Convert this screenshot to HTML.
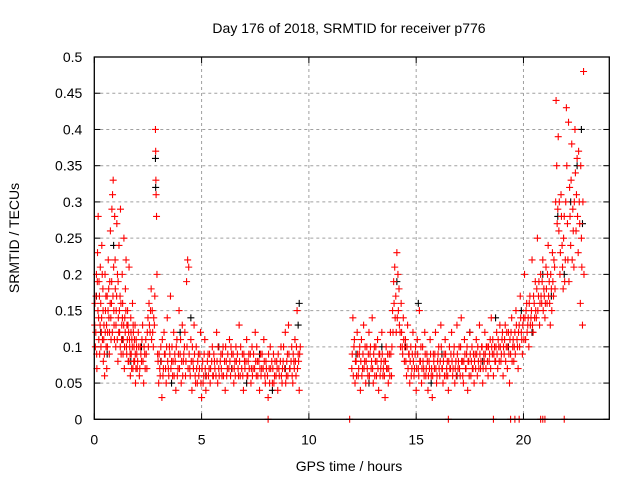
<!DOCTYPE html>
<html><head><meta charset="utf-8"><style>
body{margin:0;background:#fff}
svg text{font-family:"Liberation Sans",sans-serif;font-size:14px;fill:#000}
</style></head><body>
<svg id="chart" width="640" height="480">
<rect width="640" height="480" fill="#fff"/>
<text x="349" y="33" text-anchor="middle">Day 176 of 2018, SRMTID for receiver p776</text>
<text x="349" y="471" text-anchor="middle">GPS time / hours</text>
<text transform="translate(19,238) rotate(-90)" text-anchor="middle">SRMTID / TECUs</text>
<g id="grid"></g><g id="ticks"></g><g id="pts"></g>
<rect x="94.3" y="57" width="515" height="362.3" fill="none" stroke="#000" stroke-width="1.3"/>
</svg>
<script>
const xTicks=[0,5,10,15,20];
const yTicks=[0,0.05,0.1,0.15,0.2,0.25,0.3,0.35,0.4,0.45,0.5];
const yTickLabels=["0","0.05","0.1","0.15","0.2","0.25","0.3","0.35","0.4","0.45","0.5"];
const redPts=[
[0.02,0.13],[0.05,0.1],[0.08,0.17],[0.1,0.2],[0.12,0.07],[0.15,0.23],[0.18,0.28],[0.2,0.14],[0.22,0.19],[0.25,0.09],[0.28,0.21],[0.3,0.16],[0.33,0.12],[0.35,0.24],[0.38,0.11],[0.4,0.18],[0.42,0.08],[0.45,0.13],[0.48,0.06],[0.5,0.2],[0.52,0.15],[0.55,0.1],[0.58,0.07],[0.6,0.17],[0.62,0.12],[0.65,0.22],[0.68,0.14],[0.7,0.09],[0.72,0.19],[0.75,0.26],[0.78,0.11],[0.8,0.16],[0.82,0.29],[0.85,0.31],[0.88,0.33],[0.9,0.21],[0.92,0.13],[0.95,0.28],[0.98,0.18],[1.0,0.1],[1.02,0.15],[1.05,0.27],[1.08,0.2],[1.1,0.08],[1.12,0.14],[1.15,0.24],[1.18,0.12],[1.2,0.17],[1.22,0.29],[1.25,0.09],[1.28,0.13],[1.3,0.2],[1.32,0.16],[1.35,0.11],[1.38,0.25],[1.4,0.07],[1.42,0.14],[1.45,0.18],[1.48,0.22],[1.5,0.1],[1.52,0.13],[1.55,0.15],[1.58,0.08],[1.6,0.12],[1.62,0.21],[1.65,0.1],[1.68,0.06],[1.7,0.14],[1.72,0.09],[1.75,0.11],[1.78,0.16],[1.8,0.07],[1.82,0.12],[1.85,0.1],[1.88,0.08],[1.9,0.13],[1.92,0.05],[1.95,0.11],[1.98,0.09],[2.0,0.07],[2.05,0.12],[2.1,0.06],[2.15,0.1],[2.2,0.08],[2.25,0.13],[2.3,0.05],[2.35,0.09],[2.4,0.11],[2.45,0.07],[2.5,0.14],[2.55,0.16],[2.6,0.12],[2.65,0.18],[2.7,0.15],[2.75,0.1],[2.8,0.13],[2.82,0.17],[2.85,0.4],[2.86,0.37],[2.87,0.33],[2.88,0.31],[2.9,0.28],[2.92,0.2],[2.95,0.09],[3.0,0.05],[3.05,0.07],[3.1,0.1],[3.15,0.03],[3.2,0.06],[3.25,0.12],[3.3,0.09],[3.35,0.05],[3.4,0.14],[3.45,0.07],[3.5,0.1],[3.55,0.17],[3.6,0.08],[3.65,0.06],[3.7,0.12],[3.75,0.09],[3.8,0.04],[3.85,0.11],[3.9,0.07],[3.95,0.15],[4.0,0.09],[4.05,0.05],[4.1,0.13],[4.15,0.08],[4.2,0.1],[4.25,0.06],[4.3,0.19],[4.35,0.22],[4.4,0.21],[4.45,0.07],[4.5,0.11],[4.55,0.04],[4.6,0.08],[4.65,0.13],[4.7,0.06],[4.75,0.1],[4.8,0.05],[4.85,0.09],[4.9,0.07],[4.95,0.12],[5.0,0.03],[5.05,0.08],[5.1,0.06],[5.15,0.11],[5.2,0.04],[5.3,0.09],[5.35,0.07],[5.4,0.05],[5.5,0.1],[5.55,0.06],[5.6,0.08],[5.7,0.12],[5.75,0.05],[5.8,0.07],[5.9,0.09],[5.95,0.06],[6.0,0.1],[6.1,0.04],[6.15,0.08],[6.2,0.07],[6.3,0.11],[6.35,0.06],[6.4,0.09],[6.5,0.05],[6.55,0.08],[6.6,0.1],[6.7,0.07],[6.75,0.13],[6.8,0.06],[6.9,0.09],[6.95,0.04],[7.0,0.08],[7.1,0.11],[7.15,0.06],[7.2,0.09],[7.3,0.05],[7.35,0.1],[7.4,0.07],[7.5,0.12],[7.55,0.06],[7.6,0.08],[7.7,0.04],[7.75,0.09],[7.8,0.07],[7.9,0.11],[7.95,0.06],[8.0,0.08],[8.1,0.03],[8.15,0.07],[8.2,0.1],[8.3,0.05],[8.35,0.09],[8.4,0.06],[8.5,0.08],[8.55,0.04],[8.6,0.07],[8.7,0.1],[8.75,0.05],[8.8,0.08],[8.9,0.12],[8.95,0.06],[9.0,0.09],[9.05,0.13],[9.1,0.07],[9.2,0.1],[9.25,0.05],[9.3,0.08],[9.35,0.11],[9.4,0.06],[9.45,0.15],[9.5,0.09],[9.55,0.04],[9.6,0.1],
[12.0,0.07],[12.05,0.14],[12.1,0.1],[12.15,0.05],[12.2,0.08],[12.25,0.12],[12.3,0.06],[12.35,0.09],[12.4,0.04],[12.45,0.11],[12.5,0.07],[12.55,0.13],[12.6,0.08],[12.65,0.05],[12.7,0.1],[12.75,0.06],[12.8,0.12],[12.85,0.09],[12.9,0.07],[12.95,0.14],[13.0,0.05],[13.05,0.1],[13.1,0.08],[13.15,0.06],[13.2,0.11],[13.25,0.04],[13.3,0.09],[13.35,0.07],[13.4,0.12],[13.45,0.06],[13.5,0.08],[13.55,0.03],[13.6,0.1],[13.65,0.07],[13.7,0.05],[13.75,0.09],[13.8,0.12],[13.85,0.06],[13.9,0.15],[13.95,0.19],[14.0,0.21],[14.05,0.17],[14.1,0.23],[14.12,0.14],[14.15,0.2],[14.2,0.18],[14.25,0.12],[14.3,0.16],[14.35,0.1],[14.4,0.14],[14.45,0.08],[14.5,0.11],[14.55,0.06],[14.6,0.13],[14.65,0.09],[14.7,0.05],[14.75,0.1],[14.8,0.07],[14.85,0.12],[14.9,0.06],[14.95,0.09],[15.0,0.04],[15.05,0.11],[15.1,0.07],[15.15,0.15],[15.2,0.08],[15.25,0.05],[15.3,0.1],[15.35,0.07],[15.4,0.12],[15.45,0.06],[15.5,0.09],[15.55,0.04],[15.6,0.08],[15.65,0.11],[15.7,0.06],[15.75,0.03],[15.8,0.09],[15.85,0.07],[15.9,0.12],[15.95,0.05],[16.0,0.08],[16.05,0.1],[16.1,0.06],[16.15,0.13],[16.2,0.07],[16.25,0.05],[16.3,0.09],[16.35,0.11],[16.4,0.06],[16.45,0.08],[16.5,0.04],[16.55,0.1],[16.6,0.07],[16.65,0.12],[16.7,0.06],[16.75,0.09],[16.8,0.05],[16.85,0.08],[16.9,0.13],[16.95,0.07],[17.0,0.1],[17.05,0.06],[17.1,0.14],[17.15,0.08],[17.2,0.05],[17.25,0.11],[17.3,0.07],[17.35,0.09],[17.4,0.04],[17.45,0.08],[17.5,0.12],[17.55,0.06],[17.6,0.1],[17.65,0.07],[17.7,0.05],[17.75,0.09],[17.8,0.11],[17.85,0.06],[17.9,0.08],[17.95,0.13],[18.0,0.07],[18.05,0.1],[18.1,0.05],[18.15,0.09],[18.2,0.12],[18.25,0.07],[18.3,0.1],[18.35,0.06],[18.4,0.08],[18.45,0.11],[18.5,0.14],[18.55,0.09],[18.6,0.06],[18.65,0.1],[18.7,0.08],[18.75,0.12],[18.8,0.07],[18.85,0.1],[18.9,0.13],[18.95,0.08],[19.0,0.11],[19.05,0.06],[19.1,0.09],[19.15,0.13],[19.2,0.1],[19.25,0.07],[19.3,0.12],[19.35,0.05],[19.4,0.09],[19.45,0.14],[19.5,0.1],[19.55,0.08],[19.6,0.12],[19.65,0.15],[19.7,0.11],[19.75,0.07],[19.8,0.13],[19.85,0.17],[19.9,0.12],[19.95,0.09],[20.0,0.14],[20.05,0.2],[20.1,0.11],[20.15,0.16],[20.2,0.13],[20.25,0.1],[20.3,0.17],[20.35,0.14],[20.4,0.22],[20.45,0.12],[20.5,0.16],[20.55,0.19],[20.6,0.14],[20.65,0.25],[20.7,0.17],[20.75,0.13],[20.8,0.2],[20.85,0.16],[20.9,0.22],[20.95,0.18],[21.0,0.14],[21.05,0.21],[21.1,0.16],[21.15,0.24],[21.2,0.19],[21.25,0.13],[21.3,0.18],[21.35,0.23],[21.4,0.17],[21.45,0.21],[21.5,0.3],[21.52,0.44],[21.55,0.35],[21.6,0.29],[21.62,0.39],[21.65,0.26],[21.7,0.2],[21.75,0.31],[21.8,0.24],[21.85,0.18],[21.9,0.28],[21.95,0.22],[22.0,0.43],[22.02,0.35],[22.05,0.27],[22.1,0.41],[22.12,0.19],[22.15,0.32],[22.2,0.24],[22.25,0.38],[22.3,0.29],[22.35,0.21],[22.4,0.4],[22.42,0.34],[22.45,0.26],[22.5,0.36],[22.55,0.23],[22.6,0.3],[22.65,0.16],[22.7,0.25],[22.75,0.13],[22.8,0.48],[22.82,0.2]
];
const redPts2=[
[0.03,0.16],[0.07,0.12],[0.11,0.09],[0.14,0.19],[0.17,0.15],[0.21,0.11],[0.24,0.17],[0.27,0.13],[0.31,0.1],[0.34,0.14],[0.37,0.2],[0.41,0.15],[0.44,0.11],[0.47,0.09],[0.51,0.12],[0.54,0.17],[0.57,0.13],[0.61,0.1],[0.64,0.15],[0.67,0.18],[0.71,0.12],[0.74,0.16],[0.77,0.14],[0.81,0.19],[0.84,0.12],[0.87,0.17],[0.91,0.15],[0.94,0.11],[0.97,0.22],[1.01,0.13],[1.04,0.17],[1.07,0.11],[1.11,0.19],[1.14,0.12],[1.17,0.15],[1.21,0.1],[1.24,0.16],[1.27,0.11],[1.31,0.14],[1.34,0.09],[1.37,0.13],[1.41,0.1],[1.44,0.12],[1.47,0.15],[1.51,0.09],[1.54,0.11],[1.57,0.13],[1.61,0.08],[1.64,0.11],[1.67,0.09],[1.71,0.12],[1.74,0.07],[1.77,0.1],[1.81,0.13],[1.84,0.08],[1.87,0.11],[1.91,0.09],[1.94,0.07],[1.97,0.1],[2.02,0.08],[2.07,0.1],[2.12,0.07],[2.17,0.09],[2.22,0.11],[2.27,0.08],[2.32,0.1],[2.37,0.07],[2.42,0.09],[2.47,0.12],[2.52,0.1],[2.57,0.13],[2.62,0.15],[2.67,0.11],[2.72,0.12],[2.77,0.14],[2.97,0.08],[3.02,0.09],[3.07,0.06],[3.12,0.08],[3.17,0.11],[3.22,0.07],[3.27,0.09],[3.32,0.07],[3.37,0.1],[3.42,0.08],[3.47,0.06],[3.52,0.09],[3.57,0.07],[3.62,0.1],[3.67,0.08],[3.72,0.06],[3.77,0.08],[3.82,0.1],[3.87,0.06],[3.92,0.09],[3.97,0.07],[4.02,0.11],[4.07,0.08],[4.12,0.06],[4.17,0.09],[4.22,0.12],[4.27,0.08],[4.32,0.1],[4.37,0.07],[4.42,0.09],[4.47,0.06],[4.52,0.08],[4.57,0.1],[4.62,0.07],[4.67,0.09],[4.72,0.05],[4.77,0.07],[4.82,0.08],[4.87,0.06],[4.92,0.09],[4.97,0.05],[5.02,0.07],[5.07,0.05],[5.12,0.09],[5.17,0.07],[5.22,0.06],[5.27,0.08],[5.32,0.06],[5.37,0.09],[5.42,0.07],[5.47,0.08],[5.52,0.06],[5.57,0.09],[5.62,0.07],[5.67,0.06],[5.72,0.08],[5.77,0.1],[5.82,0.06],[5.87,0.08],[5.92,0.07],[5.97,0.09],[6.02,0.06],[6.07,0.08],[6.12,0.1],[6.17,0.06],[6.22,0.09],[6.27,0.07],[6.32,0.08],[6.37,0.1],[6.42,0.07],[6.47,0.09],[6.52,0.07],[6.57,0.06],[6.62,0.08],[6.67,0.09],[6.72,0.06],[6.77,0.08],[6.82,0.1],[6.87,0.07],[6.92,0.06],[6.97,0.09],[7.02,0.07],[7.07,0.08],[7.12,0.06],[7.17,0.08],[7.22,0.07],[7.27,0.09],[7.32,0.07],[7.37,0.06],[7.42,0.09],[7.47,0.07],[7.52,0.08],[7.57,0.1],[7.62,0.06],[7.67,0.08],[7.72,0.07],[7.77,0.06],[7.82,0.09],[7.87,0.07],[7.92,0.08],[7.97,0.05],[8.02,0.07],[8.07,0.06],[8.12,0.09],[8.17,0.05],[8.22,0.07],[8.27,0.08],[8.32,0.07],[8.37,0.05],[8.42,0.08],[8.47,0.06],[8.52,0.07],[8.57,0.09],[8.62,0.06],[8.67,0.08],[8.72,0.06],[8.77,0.07],[8.82,0.1],[8.87,0.07],[8.92,0.05],[8.97,0.08],[9.02,0.06],[9.07,0.09],[9.12,0.07],[9.17,0.08],[9.22,0.06],[9.27,0.09],[9.32,0.07],[9.37,0.08],[9.42,0.1],[9.47,0.07],[9.52,0.08],[9.57,0.09],
[12.02,0.09],[12.07,0.06],[12.12,0.11],[12.17,0.08],[12.22,0.06],[12.27,0.09],[12.32,0.07],[12.37,0.1],[12.42,0.08],[12.47,0.06],[12.52,0.09],[12.57,0.07],[12.62,0.1],[12.67,0.08],[12.72,0.07],[12.77,0.09],[12.82,0.06],[12.87,0.1],[12.92,0.08],[12.97,0.07],[13.02,0.09],[13.07,0.06],[13.12,0.1],[13.17,0.08],[13.22,0.07],[13.27,0.09],[13.32,0.06],[13.37,0.08],[13.42,0.09],[13.47,0.07],[13.52,0.06],[13.57,0.08],[13.62,0.07],[13.67,0.09],[13.72,0.07],[13.77,0.06],[13.82,0.09],[13.87,0.1],[13.92,0.12],[13.97,0.16],[14.02,0.14],[14.07,0.12],[14.17,0.15],[14.22,0.13],[14.27,0.1],[14.32,0.12],[14.37,0.09],[14.42,0.11],[14.47,0.1],[14.52,0.08],[14.57,0.1],[14.62,0.07],[14.67,0.09],[14.72,0.08],[14.77,0.06],[14.82,0.09],[14.87,0.08],[14.92,0.07],[14.97,0.1],[15.02,0.07],[15.07,0.09],[15.12,0.06],[15.17,0.08],[15.22,0.1],[15.27,0.07],[15.32,0.08],[15.37,0.06],[15.42,0.09],[15.47,0.07],[15.52,0.08],[15.57,0.06],[15.62,0.07],[15.67,0.09],[15.72,0.07],[15.77,0.06],[15.82,0.08],[15.87,0.09],[15.92,0.07],[15.97,0.06],[16.02,0.09],[16.07,0.07],[16.12,0.08],[16.17,0.1],[16.22,0.07],[16.27,0.08],[16.32,0.06],[16.37,0.09],[16.42,0.07],[16.47,0.06],[16.52,0.08],[16.57,0.07],[16.62,0.09],[16.67,0.08],[16.72,0.07],[16.77,0.1],[16.82,0.07],[16.87,0.06],[16.92,0.09],[16.97,0.08],[17.02,0.07],[17.07,0.1],[17.12,0.08],[17.17,0.06],[17.22,0.08],[17.27,0.09],[17.32,0.07],[17.37,0.1],[17.42,0.08],[17.47,0.06],[17.52,0.09],[17.57,0.08],[17.62,0.07],[17.67,0.09],[17.72,0.08],[17.77,0.07],[17.82,0.09],[17.87,0.1],[17.92,0.07],[17.97,0.09],[18.02,0.08],[18.07,0.1],[18.12,0.07],[18.17,0.08],[18.22,0.09],[18.27,0.1],[18.32,0.08],[18.37,0.1],[18.42,0.09],[18.47,0.07],[18.52,0.1],[18.57,0.11],[18.62,0.09],[18.67,0.08],[18.72,0.1],[18.77,0.09],[18.82,0.11],[18.87,0.08],[18.92,0.1],[18.97,0.09],[19.02,0.12],[19.07,0.1],[19.12,0.11],[19.17,0.08],[19.22,0.12],[19.27,0.1],[19.32,0.09],[19.37,0.11],[19.42,0.12],[19.47,0.08],[19.52,0.11],[19.57,0.1],[19.62,0.09],[19.67,0.13],[19.72,0.1],[19.77,0.12],[19.82,0.1],[19.87,0.14],[19.92,0.11],[19.97,0.13],[20.02,0.11],[20.07,0.14],[20.12,0.15],[20.17,0.12],[20.22,0.14],[20.27,0.16],[20.32,0.13],[20.37,0.15],[20.42,0.13],[20.47,0.17],[20.52,0.14],[20.57,0.15],[20.62,0.18],[20.67,0.15],[20.72,0.19],[20.77,0.16],[20.82,0.17],[20.87,0.19],[20.92,0.15],[20.97,0.17],[21.02,0.16],[21.07,0.18],[21.12,0.2],[21.17,0.17],[21.22,0.16],[21.27,0.2],[21.32,0.15],[21.37,0.19],[21.42,0.22],[21.47,0.18],[21.57,0.27],[21.67,0.3],[21.72,0.23],[21.77,0.28],[21.82,0.21],[21.87,0.25],[21.92,0.19],[21.97,0.3],[22.07,0.22],[22.17,0.28],[22.22,0.33],[22.27,0.22],[22.32,0.26],[22.37,0.3],[22.47,0.31],[22.52,0.28],[22.57,0.37],[22.62,0.27],[22.67,0.35],[22.72,0.21],[22.77,0.3]
];
const redZero=[8.1,11.9,16.5,18.6,19.4,19.6,19.8,20.8,20.9,21.0,21.9];
const blackPts=[
[0.1,0.17],[0.3,0.12],[0.6,0.09],[0.9,0.24],[1.3,0.11],[1.7,0.08],[2.2,0.1],[2.85,0.36],[2.86,0.32],[3.1,0.08],[3.6,0.05],[4.0,0.12],[4.5,0.14],[5.2,0.06],[5.8,0.1],[6.4,0.07],[7.1,0.05],[7.7,0.09],[8.3,0.04],[8.9,0.07],[9.5,0.13],[9.55,0.16],[12.2,0.09],[12.8,0.05],[13.4,0.1],[14.1,0.19],[14.5,0.1],[15.1,0.16],[15.7,0.05],[16.2,0.09],[16.9,0.06],[17.5,0.12],[18.1,0.08],[18.7,0.14],[19.3,0.1],[19.9,0.15],[20.4,0.12],[20.9,0.2],[21.3,0.17],[21.6,0.28],[21.9,0.2],[22.2,0.3],[22.5,0.35],[22.7,0.4],[22.75,0.27]
];
const X0=94.3,X1=609.3,Y0=419.3,Y1=57,XMAX=24,YMAX=0.5;
const sx=t=>X0+(X1-X0)*t/XMAX, sy=v=>Y0-(Y0-Y1)*v/YMAX;
const NS="http://www.w3.org/2000/svg";
function mk(tag,attrs,parent){const e=document.createElementNS(NS,tag);for(const k in attrs)e.setAttribute(k,attrs[k]);document.getElementById(parent).appendChild(e);return e;}
xTicks.forEach(t=>{
  const x=sx(t);
  if(t>0){const g=mk('line',{x1:x,x2:x,y1:Y1,y2:Y0,stroke:'#a0a0a0','stroke-dasharray':'3,3'},'grid');
  
  }
  const tk=mk('line',{x1:x,x2:x,y1:Y0,y2:Y0-6,stroke:'#000'},'ticks');
  
  
  mk('line',{x1:x,x2:x,y1:Y1,y2:Y1+6,stroke:'#000'},'ticks');
  const lb=mk('text',{x:x,y:Y0+25,'text-anchor':'middle'},'ticks');lb.textContent=t;
  
  
});
yTicks.forEach((v,i)=>{
  const y=sy(v);
  if(v>0&&v<YMAX){const g=mk('line',{x1:X0,x2:X1,y1:y,y2:y,stroke:'#a0a0a0','stroke-dasharray':'3,3'},'grid');
  
  }
  const tk=mk('line',{x1:X0,x2:X0+6,y1:y,y2:y,stroke:'#000'},'ticks');
  
  
  mk('line',{x1:X1,x2:X1-6,y1:y,y2:y,stroke:'#000'},'ticks');
  const lb=mk('text',{x:X0-12,y:y+5,'text-anchor':'end'},'ticks');lb.textContent=yTickLabels[i];
  
  
});
function plus(t,v,c,name){
  const x=sx(t),y=sy(v);
  const p=mk('path',{d:`M${x-3.5},${y}h7M${x},${y-3.5}v7`,stroke:c,'stroke-width':1.1,fill:'none'},'pts');
  
  
}
blackPts.forEach(p=>plus(p[0],p[1],'#000','black-point'));
redPts.forEach(p=>plus(p[0],p[1],'#f00','red-point'));
redPts2.forEach(p=>plus(p[0],p[1],'#f00','red-point'));
redZero.forEach(t=>plus(t,0,'#f00','red-zero-point'));
</script>
</body></html>
